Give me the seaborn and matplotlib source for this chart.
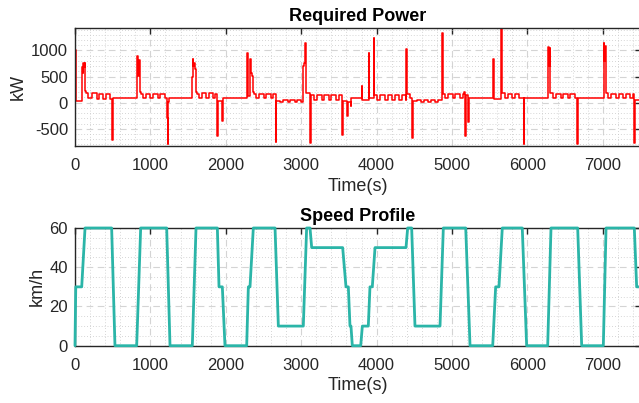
import matplotlib
matplotlib.use("Agg")
import matplotlib.pyplot as plt
from matplotlib.ticker import MultipleLocator
import seaborn as sns
import pandas as pd

# required power, step breakpoints (time s, kW)
power_t = [0, 8, 15, 89, 100, 108, 120, 128, 134, 145, 166, 221, 287, 318, 376, 411, 464,
           486, 492, 500, 510, 818, 826, 836, 845, 856, 866, 874, 905, 940, 1000, 1035,
           1095, 1130, 1190, 1222, 1230, 1238, 1248, 1552, 1560, 1570, 1580, 1590, 1600,
           1612, 1640, 1680, 1740, 1775, 1835, 1860, 1885, 1893, 1954, 1962, 1970, 2280,
           2292, 2322, 2334, 2346, 2360, 2372, 2400, 2440, 2500, 2535, 2595, 2625, 2660,
           2670, 2720, 2760, 2820, 2855, 2915, 2950, 3000, 3028, 3040, 3050, 3060, 3068,
           3118, 3126, 3135, 3175, 3210, 3270, 3305, 3365, 3400, 3460, 3495, 3540, 3546,
           3556, 3608, 3617, 3655, 3662, 3800, 3808, 3896, 3904, 3964, 3972, 4010, 4050,
           4110, 4145, 4205, 4240, 4300, 4335, 4385, 4396, 4404, 4440, 4472, 4480, 4530,
           4590, 4625, 4685, 4720, 4780, 4815, 4872, 4880, 4910, 4950, 5010, 5045, 5105,
           5140, 5160, 5176, 5184, 5212, 5220, 5546, 5554, 5655, 5663, 5700, 5740, 5800,
           5835, 5895, 5950, 5958, 6275, 6285, 6295, 6305, 6340, 6380, 6440, 6475, 6535,
           6570, 6630, 6664, 6672, 7014, 7022, 7030, 7040, 7075, 7115, 7175, 7210, 7270,
           7305, 7365, 7395, 7420, 7430, 7500]
power_kw = [1000, 150, 40, 680, 560, 760, 690, 760, 230, 190, 80, 185, 75, 165, 75, 165, 75,
            -300, -717, 20, 90, 500, 890, 520, 820, 700, 200, 170, 80, 175, 80, 175,
            80, 170, 80, -300, -790, 20, 90, 500, 830, 700, 760, 650, 210,
            170, 80, 180, 80, 185, 80, 160, -640, 40, -360, 80, 90, 950,
            120, 840, 560, 520, 200, 170, 80, 170, 80, 175, 80, 160, -760,
            40, 10, 55, 10, 55, 10, 55, 15, 700, 760, 1140, 1000, 180,
            -780, 60, 140, 60, 140, 60, 140, 60, 145, 60, 140, 60, -620,
            30, -260, 20, -60, 90, 320, 60, 950, 80, 1240, 150, 60, 145,
            60, 145, 60, 145, 60, 145, 60, 1020, 170, 90, -670, 30, 60,
            15, 60, 15, 60, 15, 60, 1330, 170, 80, 175, 80, 175, 80,
            170, 210, -640, 150, -365, 90, 840, 70, 1420, 180, 80, 175, 80,
            175, 80, -790, 90, 1060, 700, 1045, 180, 80, 175, 80, 175, 80,
            175, 80, -790, 90, 1140, 800, 1080, 180, 80, 175, 80, 175, 80,
            175, 80, 160, -770, 50, 50]

# speed profile breakpoints (time s, km/h)
speed_t = [0, 10, 89, 133, 486, 530, 818, 871, 1216, 1260, 1556, 1605, 1888, 1910, 1954,
           1989, 2277, 2299, 2321, 2365, 2653, 2697, 3028, 3072, 3117, 3139, 3550, 3594,
           3625, 3647, 3660, 3678, 3789, 3811, 3890, 3912, 3943, 3979, 4390, 4412, 4465,
           4509, 4841, 4885, 5182, 5239, 5540, 5579, 5623, 5667, 5932, 5990, 6269, 6313,
           6667, 6720, 7007, 7043, 7418, 7449, 7500]
speed_kmh = [0, 30, 30, 60, 60, 0, 0, 60, 60, 0, 0, 60, 60, 30, 30,
             0, 0, 30, 30, 60, 60, 10, 10, 60, 60, 50, 50, 30,
             30, 10, 10, 0, 0, 10, 10, 30, 30, 50, 50, 60, 60,
             10, 10, 60, 60, 0, 0, 30, 30, 60, 60, 0, 0, 60,
             60, 0, 0, 60, 60, 30, 30]

power = pd.DataFrame({"t": power_t, "kw": power_kw})
speed = pd.DataFrame({"t": speed_t, "kmh": speed_kmh})

sns.set_style("white")
plt.rcParams["font.family"] = ["Liberation Sans", "DejaVu Sans"]
plt.rcParams["axes.unicode_minus"] = False
dark = "#262626"

fig = plt.figure(figsize=(6.39, 4.03), dpi=100)
ax1 = fig.add_axes([75 / 639, 1 - 146 / 403, 565.5 / 639, 118 / 403])
ax2 = fig.add_axes([75 / 639, 1 - 345.7 / 403, 565.5 / 639, 117.7 / 403])

sns.lineplot(data=power, x="t", y="kw", ax=ax1, color="#ff0000", linewidth=1.1,
             drawstyle="steps-post", estimator=None, sort=False)
sns.lineplot(data=speed, x="t", y="kmh", ax=ax2, color="#2bb5a8", linewidth=2.0,
             estimator=None, sort=False, clip_on=False, zorder=5)


def style(ax, title, ylabel, ylim, yticks, yminor):
    ax.set_xlim(0, 7500)
    ax.set_ylim(*ylim)
    ax.set_xticks([0, 1000, 2000, 3000, 4000, 5000, 6000, 7000])
    ax.set_yticks(yticks)
    ax.xaxis.set_minor_locator(MultipleLocator(200))
    ax.yaxis.set_minor_locator(MultipleLocator(yminor))
    ax.grid(which="major", linestyle=(0, (6, 4)), color="#d4d4d4", linewidth=0.8)
    ax.grid(which="minor", linestyle=(0, (1, 2.5)), color="#c8c8c8", linewidth=0.6)
    ax.set_axisbelow(True)
    ax.tick_params(which="major", direction="in", length=4, width=1, color=dark,
                   labelsize=12, labelcolor=dark, top=True, right=True)
    ax.tick_params(axis="x", which="major", pad=9)
    ax.tick_params(axis="y", which="major", pad=5)
    ax.tick_params(which="minor", length=0)
    for sp in ax.spines.values():
        sp.set_color(dark)
        sp.set_linewidth(1.0)
    ax.set_title(title, fontsize=13, fontweight="bold", color="black", pad=5)
    ax.set_xlabel("Time(s)", fontsize=13, color=dark, labelpad=3)
    ax.set_ylabel(ylabel, fontsize=13, color=dark, labelpad=3)


style(ax1, "Required Power", "kW", (-830, 1430), [-500, 0, 500, 1000], 100)
style(ax2, "Speed Profile", "km/h", (0, 60), [0, 20, 40, 60], 5)

fig.savefig("out.png", dpi=100)
